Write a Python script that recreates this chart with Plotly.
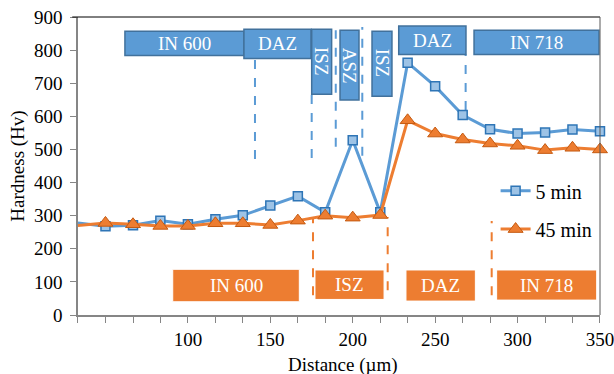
import plotly.graph_objects as go

# ---- data ----
distance = [33.3, 50, 66.7, 83.3, 100, 116.7, 133.3, 150, 166.7, 183.3,
            200, 216.7, 233.3, 250, 266.7, 283.3, 300, 316.7, 333.3, 350]
hv_5min = [278, 268, 271, 285, 274, 289, 301, 331, 359, 310,
           528, 310, 762, 691, 604, 561, 548, 551, 560, 555]
hv_45min = [270, 278, 274, 269, 269, 277, 277, 272, 285, 300,
            294, 302, 588, 548, 530, 518, 511, 498, 505, 500]
x_tick_labels = ["100", "150", "200", "250", "300", "350"]
y_ticks = [0, 100, 200, 300, 400, 500, 600, 700, 800, 900]

# zone labels (text, x0, x1, y0, y1, vertical)
blue_zones = [
    ("IN 600", 61.8, 134.0, 784, 857, False),
    ("DAZ", 134.0, 174.7, 775, 863, False),
    ("ISZ", 175.1, 187.2, 667, 863, True),
    ("ASZ", 192.3, 203.8, 649, 860, True),
    ("ISZ", 211.7, 223.8, 661, 857, True),
    ("DAZ", 227.9, 268.7, 787, 873, False),
    ("IN 718", 273.6, 349.4, 787, 860, False),
]
blue_dashes = [(140.7, 471, 772), (175.1, 474, 667), (189.7, 508, 860),
               (205.8, 481, 870), (268.5, 619, 787)]
orange_zones = [
    ("IN 600", 90.8, 167.6, 40, 138),
    ("ISZ", 177.1, 219.0, 47, 136),
    ("DAZ", 232.3, 274.4, 42, 136),
    ("IN 718", 287.3, 348.0, 45, 136),
]
orange_dashes = [(175.9, 60, 290), (221.2, 75, 296), (284.3, 60, 284)]

BLUE = "#5B9BD5"
BLUE_DARK = "#41719C"
ORANGE = "#ED7D31"
FONT = "Liberation Serif"

fig = go.Figure()
fig.add_trace(go.Scatter(
    x=distance, y=hv_5min, name="5 min", mode="lines+markers",
    line=dict(color=BLUE, width=3),
    marker=dict(symbol="square", size=9, color="#9DC3E6",
                line=dict(color="#2E75B6", width=1.5)),
    cliponaxis=False, showlegend=True, legend="legend"))
fig.add_trace(go.Scatter(
    x=distance, y=hv_45min, name="45 min", mode="lines+markers",
    line=dict(color=ORANGE, width=3),
    marker=dict(symbol="triangle-up", size=13, color=ORANGE,
                line=dict(color="#C55A11", width=1)),
    cliponaxis=False, showlegend=True, legend="legend2"))

shapes = []
annotations = []
for (x, y0, y1) in blue_dashes:
    shapes.append(dict(type="line", xref="x", yref="y", x0=x, x1=x, y0=y0, y1=y1,
                       line=dict(color=BLUE, width=2, dash="dash"), layer="below"))
for (x, y0, y1) in orange_dashes:
    shapes.append(dict(type="line", xref="x", yref="y", x0=x, x1=x, y0=y0, y1=y1,
                       line=dict(color=ORANGE, width=2, dash="dash"), layer="below"))
for (t, x0, x1, y0, y1, vert) in blue_zones:
    shapes.append(dict(type="rect", xref="x", yref="y", x0=x0, x1=x1, y0=y0, y1=y1,
                       fillcolor=BLUE, line=dict(color=BLUE_DARK, width=1.5), layer="above"))
    annotations.append(dict(x=(x0 + x1) / 2, y=(y0 + y1) / 2, xref="x", yref="y",
                            text=t, showarrow=False, textangle=90 if vert else 0,
                            font=dict(family=FONT, size=19, color="white")))
for (t, x0, x1, y0, y1) in orange_zones:
    shapes.append(dict(type="rect", xref="x", yref="y", x0=x0, x1=x1, y0=y0, y1=y1,
                       fillcolor=ORANGE, line=dict(color="white", width=1), layer="above"))
    annotations.append(dict(x=(x0 + x1) / 2, y=(y0 + y1) / 2, xref="x", yref="y",
                            text=t, showarrow=False,
                            font=dict(family=FONT, size=19, color="white")))

# x-axis title placed as annotation for exact position
annotations.append(dict(x=0.508, y=-0.168, xref="paper", yref="paper",
                        xanchor="center", yanchor="middle", showarrow=False,
                        text="Distance (µm)", font=dict(family=FONT, size=19, color="black")))

# plot-area frame: black top line, gray right line
shapes.append(dict(type="line", xref="paper", yref="paper", x0=-0.011, x1=1, y0=1, y1=1,
                   line=dict(color="black", width=1)))
shapes.append(dict(type="line", xref="paper", yref="paper", x0=1, x1=1, y0=0, y1=1,
                   line=dict(color="#595959", width=1)))

tickvals_x = distance
ticktext_x = [str(int(round(d))) if str(int(round(d))) in x_tick_labels and abs(d - round(d)) < 0.01 else ""
              for d in distance]

fig.update_layout(
    width=614, height=374,
    margin=dict(l=78, r=14, t=17, b=59),
    paper_bgcolor="white", plot_bgcolor="white",
    font=dict(family=FONT, size=18, color="black"),
    showlegend=True,
    shapes=shapes, annotations=annotations,
    xaxis=dict(range=[33.33, 350.01], showgrid=False, zeroline=False, automargin=False,
               showline=True, linecolor="#868686", linewidth=1.5,
               tickmode="array", tickvals=tickvals_x, ticktext=ticktext_x,
               ticklabeloverflow="allow",
               ticks="outside", ticklen=6, tickcolor="#868686", tickwidth=1,
               tickfont=dict(family=FONT, size=19, color="black")),
    yaxis=dict(range=[0, 900], showgrid=False, zeroline=False, automargin=False,
               showline=True, linecolor="#868686", linewidth=1.5,
               tickmode="array", tickvals=y_ticks, ticklabelstandoff=4,
               ticks="outside", ticklen=6, tickcolor="#868686", tickwidth=1,
               tickfont=dict(family=FONT, size=19, color="black"),
               title=dict(text="Hardness (Hv)", font=dict(family=FONT, size=19), standoff=4)),
    legend=dict(x=0.80, y=0.4167, xanchor="left", yanchor="middle",
                bgcolor="rgba(0,0,0,0)", font=dict(family=FONT, size=20, color="black")),
    legend2=dict(x=0.80, y=0.2883, xanchor="left", yanchor="middle",
                 bgcolor="rgba(0,0,0,0)", font=dict(family=FONT, size=20, color="black")),
)

fig.write_html("out.html")
